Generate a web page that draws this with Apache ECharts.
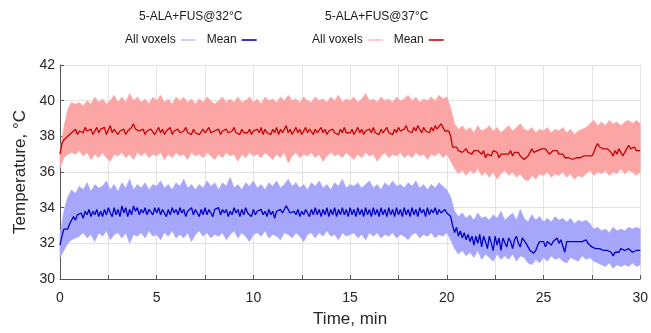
<!DOCTYPE html>
<html>
<head>
<meta charset="utf-8">
<script src="https://cdn.jsdelivr.net/npm/echarts@6/dist/echarts.min.js"></script>
<style>
  html, body { margin: 0; padding: 0; background: #fff; }
  #chart { width: 651px; height: 333px; }
</style>
</head>
<body>
<div id="chart"></div>
<script>
// time step of the mean traces (min) and of the voxel envelope (min)
const meanStep = 0.1;
const bandStep = 0.2;

const groupTitles = ["5-ALA+FUS@32°C", "5-ALA+FUS@37°C"];
const xTickLabels = [0, 5, 10, 15, 20, 25, 30];
const yTickLabels = [30, 32, 34, 36, 38, 40, 42];

// mean temperature, 32 °C group, t = 0 .. 30 min every 0.1 min
const mean32 = [
  31.9, 32.4, 32.8, 32.9, 32.8, 33.1, 33.3, 33.5, 33.3, 33.6, 33.5,
  33.7, 33.4, 33.8, 33.6, 33.9, 33.5, 33.8, 33.6, 33.9, 33.5,
  33.8, 33.5, 33.9, 33.6, 34.0, 33.7, 33.5, 34.0, 33.6, 33.9,
  33.5, 34.1, 33.7, 34.0, 33.5, 33.9, 33.6, 34.1, 33.8, 34.0,
  33.6, 33.9, 33.7, 34.0, 33.6, 33.9, 33.8, 33.6, 34.0, 33.7,
  34.0, 33.6, 33.9, 33.7, 33.5, 33.9, 33.6, 34.0, 33.7, 33.9,
  33.6, 34.0, 33.7, 33.9, 33.5, 33.8, 33.7, 34.0, 33.6, 33.9,
  33.7, 33.5, 33.9, 33.6, 34.0, 33.6, 33.9, 33.7, 33.5, 33.9,
  33.8, 34.0, 33.6, 33.9, 33.7, 33.9, 33.5, 33.8, 33.6, 34.0,
  33.7, 33.9, 33.5, 33.9, 33.6, 34.0, 33.7, 33.8, 33.5, 33.9,
  33.6, 33.8, 33.7, 33.9, 33.6, 33.8, 33.5, 33.9, 33.6, 33.8,
  33.4, 33.8, 33.7, 33.9, 33.7, 33.8, 34.1, 33.9, 33.7, 33.6,
  33.8, 33.6, 33.9, 33.5, 33.8, 33.6, 33.9, 33.7, 33.5, 33.9,
  33.6, 34.0, 33.6, 33.9, 33.5, 33.9, 33.6, 34.0, 33.5, 33.9,
  33.6, 34.0, 33.5, 33.9, 33.6, 34.0, 33.6, 33.9, 33.5, 34.0,
  33.6, 33.9, 33.5, 34.0, 33.6, 33.9, 33.5, 34.0, 33.6, 33.9,
  33.5, 34.0, 33.6, 33.9, 33.5, 34.0, 33.6, 33.9, 33.5, 34.0,
  33.6, 33.9, 33.5, 34.0, 33.6, 33.9, 33.5, 34.0, 33.6, 33.9,
  33.5, 34.0, 33.6, 33.9, 33.5, 34.0, 33.7, 33.9, 33.5, 34.0,
  33.6, 33.9, 33.7, 34.0, 33.6, 33.9, 33.7, 33.8, 33.9, 33.7,
  33.8, 33.5, 33.0, 32.6, 32.9, 32.4, 32.7, 32.3, 32.6, 32.2,
  32.5, 32.1, 32.4, 31.9, 32.4, 32.0, 32.5, 31.8, 32.4, 32.1,
  31.7, 32.4, 32.0, 31.6, 32.4, 31.9, 32.3, 31.6, 32.3, 32.2,
  31.8, 32.3, 32.1, 31.7, 32.2, 32.4, 32.0, 31.8, 32.3, 32.2,
  32.0, 31.8, 31.6, 31.5, 31.45, 31.6, 31.9, 32.1, 32.2, 32.1,
  31.8, 32.1, 32.2, 31.9, 32.1, 32.2, 32.3, 32.0, 32.2, 32.3,
  31.5, 32.1, 32.2, 32.1, 32.0, 32.1, 32.2, 32.1, 32.2, 32.1,
  32.1, 32.2, 32.0, 32.1, 31.8, 31.7, 31.7, 31.8, 31.7, 31.7,
  31.6, 31.5, 31.6, 31.7, 31.5, 31.3, 31.5, 31.6, 31.5, 31.7,
  31.6, 31.6, 31.5, 31.7, 31.6, 31.5, 31.6, 31.6, 31.5, 31.6
];

// mean temperature, 37 °C group
const mean37 = [
  37.0, 37.6, 37.8, 37.8, 38.0, 37.9, 38.2, 38.1, 38.4, 38.1, 38.3,
  38.4, 38.2, 38.5, 38.3, 38.2, 38.4, 38.1, 38.3, 38.5, 38.2,
  38.4, 38.3, 38.5, 38.1, 38.2, 38.6, 38.2, 38.4, 38.3, 38.1,
  38.3, 38.2, 38.4, 38.1, 38.3, 38.4, 38.5, 38.7, 38.4, 38.5,
  38.3, 38.2, 38.4, 38.1, 38.3, 38.2, 38.4, 38.3, 38.1, 38.3,
  38.5, 38.2, 38.4, 38.1, 38.3, 38.2, 38.5, 38.1, 38.3, 38.2,
  38.4, 38.2, 38.1, 38.3, 38.5, 38.2, 38.3, 38.1, 38.4, 38.2,
  38.3, 38.1, 38.2, 38.4, 38.2, 38.3, 38.5, 38.2, 38.1, 38.3,
  38.2, 38.4, 38.1, 38.3, 38.2, 38.4, 38.2, 38.1, 38.3, 38.5,
  38.2, 38.3, 38.1, 38.4, 38.2, 38.3, 38.2, 38.4, 38.1, 38.3,
  38.2, 38.4, 38.2, 38.5, 38.1, 38.4, 38.2, 38.3, 38.1, 38.4,
  38.2, 38.5, 38.1, 38.4, 38.2, 38.3, 38.6, 38.2, 38.4, 38.1,
  38.3, 38.5, 38.2, 38.4, 38.1, 38.3, 38.5, 38.2, 38.4, 38.3,
  38.1, 38.4, 38.2, 38.3, 38.5, 38.2, 38.4, 38.1, 38.3, 38.2,
  38.4, 38.2, 38.3, 38.1, 38.4, 38.2, 38.5, 38.2, 38.3, 38.2,
  38.4, 38.1, 38.3, 38.5, 38.2, 38.4, 38.1, 38.3, 38.2, 38.4,
  38.2, 38.5, 38.2, 38.3, 38.1, 38.4, 38.2, 38.3, 38.5, 38.2,
  38.3, 38.1, 38.4, 38.2, 38.5, 38.3, 38.2, 38.4, 38.6, 38.3,
  38.4, 38.2, 38.5, 38.3, 38.6, 38.4, 38.2, 38.5, 38.3, 38.4,
  38.2, 38.5, 38.3, 38.6, 38.4, 38.5, 38.7, 38.5, 38.3, 38.4,
  38.3, 38.0, 37.4, 37.3, 37.4, 37.2, 37.3, 37.1, 37.2, 37.3,
  37.1, 37.2, 37.0, 37.2, 37.1, 37.2, 37.1, 37.0, 37.2, 36.8,
  37.0, 37.1, 36.9, 37.2, 37.3, 37.1, 36.8, 37.0, 37.1, 37.0,
  37.1, 37.0, 37.2, 36.9, 37.1, 37.0, 37.1, 36.9, 37.0, 36.7,
  36.6, 36.9, 37.1, 37.3, 37.1, 37.0, 37.2, 37.3, 37.3, 37.2,
  37.3, 37.2, 37.0, 37.1, 37.2, 37.3, 37.2, 37.0, 36.9, 37.0,
  36.8, 36.7, 36.8, 36.8, 36.7, 36.8, 36.8, 36.7, 36.8, 36.8,
  36.9, 36.8, 36.9, 36.8, 36.9, 37.1, 37.4, 37.6, 37.4, 37.5,
  37.3, 37.2, 37.3, 37.2, 37.1, 36.9, 37.2, 37.0, 37.3, 37.1,
  36.9, 37.1, 37.3, 37.5, 37.3, 37.2, 37.4, 37.2, 37.1, 37.2
];

// envelope of all voxels, every 0.2 min
const upper32 = [
  32.5, 33.8, 34.6, 35.0, 34.8, 35.2,
  35.0, 35.4, 34.9, 35.3, 35.1,  35.2, 35.5, 35.0, 35.3, 34.9,
  35.4, 35.1, 35.6, 35.0, 35.3,  35.1, 35.4, 35.0, 35.3, 35.2,
  35.5, 35.1, 35.3, 35.0, 35.4,  35.2, 35.6, 35.1, 35.3, 35.0,
  35.3, 35.1, 35.5, 35.2, 35.4,  35.0, 35.4, 35.2, 35.7, 35.1,
  35.3, 35.0, 35.4, 35.2, 35.5,  35.1, 35.3, 35.0, 35.4, 35.2,
  35.5, 35.1, 35.3, 35.6, 35.2,  35.4, 35.1, 35.3, 35.0, 35.4,
  35.2, 35.5, 35.1, 35.3, 35.0,  35.4, 35.2, 35.6, 35.1, 35.3,
  35.2, 35.4, 35.1, 35.3, 35.5,  35.1, 35.3, 35.0, 35.4, 35.2,
  35.5, 35.2, 35.3, 35.1, 35.4,  35.2, 35.5, 35.1, 35.3, 35.0,
  35.3, 35.1, 35.4, 35.2, 35.0,  34.6, 33.8, 33.5, 33.7, 33.4,
  33.6, 33.3, 33.7, 33.4, 33.5,  33.3, 33.6, 33.4, 33.8, 33.3,
  33.5, 33.7, 33.3, 33.9, 33.4,  33.2, 33.6, 33.3, 33.5, 33.2,
  33.4, 33.2, 33.5, 33.3, 33.4,  33.2, 33.4, 33.1, 33.3, 33.2,
  33.3, 33.1, 32.8, 32.9, 32.7,  32.8, 32.6, 32.9, 32.7, 32.8,
  32.7, 32.9, 32.8, 32.9, 32.8
];
const lower32 = [
  31.2, 31.6, 32.0, 32.2, 32.3, 32.4,
  32.6, 32.3, 32.5, 32.1, 32.6,  32.4, 32.7, 32.2, 32.5, 32.6,
  32.3, 32.6, 32.0, 32.5, 32.4,  32.6, 32.3, 32.7, 32.4, 32.5,
  32.2, 32.6, 32.4, 32.7, 32.3,  32.5, 32.3, 32.6, 32.1, 32.5,
  32.7, 32.4, 32.6, 32.3, 32.5,  32.4, 32.6, 32.2, 32.5, 32.7,
  32.3, 32.6, 32.4, 32.1, 32.5,  32.6, 32.4, 32.7, 32.3, 32.5,
  32.4, 32.2, 32.6, 32.5, 32.3,  32.6, 32.4, 32.1, 32.5, 32.6,
  32.3, 32.6, 32.4, 32.7, 32.4,  32.5, 32.2, 32.6, 32.4, 32.5,
  32.6, 32.3, 32.5, 32.2, 32.6,  32.4, 32.6, 32.3, 32.5, 32.4,
  32.6, 32.3, 32.5, 32.4, 32.2,  32.5, 32.6, 32.3, 32.5, 32.4,
  32.6, 32.3, 32.5, 32.4, 32.6,  32.2, 31.7, 31.4, 31.6, 31.3,
  31.5, 31.2, 31.6, 31.1, 31.4,  31.2, 31.0, 31.4, 31.1, 31.3,
  31.1, 31.4, 31.0, 31.3, 31.2,  30.9, 30.8, 31.1, 30.9, 31.2,
  31.0, 31.3, 31.1, 31.2, 31.0,  30.9, 31.2, 31.1, 31.0, 31.3,
  31.1, 31.2, 31.0, 30.9, 30.8,  30.7, 30.9, 30.6, 30.8, 30.7,
  30.8, 30.7, 30.9, 30.7, 30.8
];
const upper37 = [
  37.2, 38.5, 39.5, 39.9, 39.8, 39.9,
  39.7, 40.0, 39.8, 40.2, 39.9,  40.1, 39.8, 40.0, 40.3, 39.9,
  40.2, 39.9, 40.4, 40.0, 40.2,  39.9, 40.1, 39.8, 40.2, 40.0,
  40.3, 39.9, 40.1, 39.8, 40.2,  40.0, 40.2, 39.9, 40.1, 39.8,
  40.1, 39.9, 40.2, 40.0, 39.8,  40.0, 40.2, 39.9, 40.1, 39.9,
  40.2, 39.9, 40.0, 40.2, 39.9,  40.1, 39.8, 40.2, 40.0, 40.1,
  39.9, 40.2, 40.0, 40.3, 40.0,  40.1, 39.9, 40.2, 40.0, 39.9,
  40.2, 40.0, 40.1, 39.9, 40.2,  40.0, 40.3, 39.9, 40.1, 40.0,
  40.2, 39.9, 40.1, 40.4, 40.0,  40.1, 39.9, 40.2, 40.0, 40.1,
  39.9, 40.2, 40.0, 40.1, 40.3,  40.0, 40.2, 39.9, 40.1, 40.0,
  40.2, 40.0, 40.3, 40.1, 40.2,  39.6, 38.7, 38.4, 38.6, 38.3,
  38.5, 38.2, 38.6, 38.3, 38.4,  38.6, 38.3, 38.5, 38.2, 38.4,
  38.6, 38.3, 38.5, 38.7, 38.4,  38.3, 38.5, 38.2, 38.4, 38.3,
  38.5, 38.2, 38.4, 38.3, 38.5,  38.2, 38.4, 38.1, 38.3, 38.4,
  38.5, 38.7, 38.9, 38.6, 38.8,  38.6, 38.9, 38.7, 38.8, 38.6,
  38.8, 38.9, 38.7, 38.9, 38.7
];
const lower37 = [
  36.2, 36.8, 37.0, 37.1, 37.0, 37.2,
  36.9, 37.1, 36.7, 37.0, 36.8,  37.1, 36.8, 36.6, 37.0, 36.9,
  37.1, 36.8, 37.0, 36.7, 37.1,  36.9, 37.1, 36.8, 37.0, 36.9,
  37.1, 36.7, 37.0, 36.8, 37.1,  36.9, 37.0, 36.7, 37.1, 36.9,
  37.0, 36.8, 37.1, 36.9, 36.7,  37.0, 36.8, 37.1, 36.9, 37.0,
  36.6, 37.0, 36.8, 37.1, 36.9,  37.0, 36.8, 37.1, 36.9, 36.7,
  37.0, 36.8, 37.1, 36.5, 36.9,  37.1, 36.8, 37.0, 36.9, 37.1,
  36.8, 37.0, 36.6, 36.9, 37.1,  36.9, 37.0, 36.8, 37.1, 36.9,
  36.7, 37.0, 36.8, 37.1, 36.9,  37.0, 36.6, 36.9, 37.1, 36.8,
  37.0, 36.9, 37.1, 36.8, 37.0,  36.8, 37.1, 36.9, 37.0, 36.7,
  37.0, 36.9, 37.1, 36.8, 37.0,  36.6, 36.2, 35.9, 36.1, 35.8,
  36.1, 35.9, 36.2, 35.8, 36.0,  35.7, 36.0, 35.6, 35.9, 36.1,
  35.8, 36.0, 35.7, 35.9, 35.6,  35.5, 35.8, 35.6, 35.9, 35.8,
  36.0, 35.7, 35.9, 35.8, 36.0,  35.7, 35.9, 35.6, 35.8, 35.7,
  35.9, 36.1, 35.8, 36.0, 35.9,  36.1, 35.8, 36.0, 35.9, 36.2,
  35.9, 36.1, 36.0, 35.8, 36.0
];

const colors = {
  band32: "#a6a6fb",
  legend32: "#c4c4fc",
  mean32: "#0000c8",
  band37: "#fca5a5",
  legend37: "#fcc4c4",
  mean37: "#c80000"
};

const toPairs = (arr, step) => arr.map((v, i) => [Math.round(i * step * 100) / 100, v]);

const font = "'Liberation Sans', Arial, sans-serif";
const chart = echarts.init(document.getElementById("chart"));

// the voxel envelope as one filled polygon, placed through the axes
function band(name, lo, hi, color) {
  const rows = lo.map((v, i) => [Math.round(i * bandStep * 100) / 100, v, hi[i]]);
  return {
    name: name,
    type: "custom",
    silent: true,
    z: 1,
    itemStyle: { color: color },
    encode: { x: 0, y: [1, 2] },
    data: rows,
    renderItem: (params, api) => {
      if (params.dataIndex !== 0) return null;
      const pts = [];
      for (let i = 0; i < rows.length; i++) pts.push(api.coord([rows[i][0], rows[i][2]]));
      for (let i = rows.length - 1; i >= 0; i--) pts.push(api.coord([rows[i][0], rows[i][1]]));
      return {
        type: "polygon",
        shape: { points: pts },
        style: { fill: color, stroke: color, lineWidth: 0.6 }
      };
    }
  };
}

const legendBase = {
  top: 34,
  padding: 0,
  align: "right",
  icon: "rect",
  itemWidth: 15,
  itemHeight: 1.6,
  itemGap: 11,
  selectedMode: false,
  formatter: (n) => n.split(" (")[0],
  textStyle: { fontSize: 12, color: "#1a1a1a", fontFamily: font }
};

const titleStyle = { fontSize: 12, fontWeight: "normal", color: "#1a1a1a", fontFamily: font };

const option = {
  animation: false,
  textStyle: { fontFamily: font },
  title: [
    { text: groupTitles[0], left: 139, top: 11, padding: 0, textStyle: titleStyle },
    { text: groupTitles[1], left: 325, top: 11, padding: 0, textStyle: titleStyle }
  ],
  legend: [
    Object.assign({
      left: 125,
      data: [{ name: "All voxels (32)", itemStyle: { color: colors.legend32 } }, "Mean (32)"]
    }, legendBase),
    Object.assign({
      left: 312,
      data: [{ name: "All voxels (37)", itemStyle: { color: colors.legend37 } }, "Mean (37)"]
    }, legendBase)
  ],
  grid: { left: 60, right: 7, top: 65, bottom: 50 },
  xAxis: {
    type: "value",
    min: 0,
    max: 30,
    interval: 2.5,
    name: "Time, min",
    nameLocation: "middle",
    nameGap: 32,
    nameTextStyle: { fontSize: 17, color: "#262626" },
    axisLine: { lineStyle: { color: "#555", width: 1 } },
    axisTick: { inside: true, length: 4, lineStyle: { color: "#555" } },
    axisLabel: {
      margin: 12,
      fontSize: 14,
      color: "#262626",
      formatter: (v) => (xTickLabels.indexOf(v) >= 0 ? String(v) : "")
    },
    splitLine: { show: true, lineStyle: { color: "#e3e3e3" } }
  },
  yAxis: {
    type: "value",
    min: yTickLabels[0],
    max: yTickLabels[yTickLabels.length - 1],
    interval: 2,
    name: "Temperature, °C",
    nameLocation: "middle",
    nameGap: 31,
    nameTextStyle: { fontSize: 17, color: "#262626" },
    axisLine: { show: true, lineStyle: { color: "#555", width: 1 } },
    axisTick: { show: true, inside: true, length: 4, lineStyle: { color: "#555" } },
    axisLabel: { margin: 5, fontSize: 14, color: "#262626" },
    splitLine: { show: true, lineStyle: { color: "#e3e3e3" } }
  },
  series: [
    band("All voxels (32)", lower32, upper32, colors.band32),
    band("All voxels (37)", lower37, upper37, colors.band37),
    {
      name: "Mean (32)",
      type: "line",
      data: toPairs(mean32, meanStep),
      symbol: "none",
      color: colors.mean32,
      lineStyle: { width: 1.3, color: colors.mean32 },
      z: 3
    },
    {
      name: "Mean (37)",
      type: "line",
      data: toPairs(mean37, meanStep),
      symbol: "none",
      color: colors.mean37,
      lineStyle: { width: 1.3, color: colors.mean37 },
      z: 3
    }
  ]
};

chart.setOption(option);
</script>
</body>
</html>
